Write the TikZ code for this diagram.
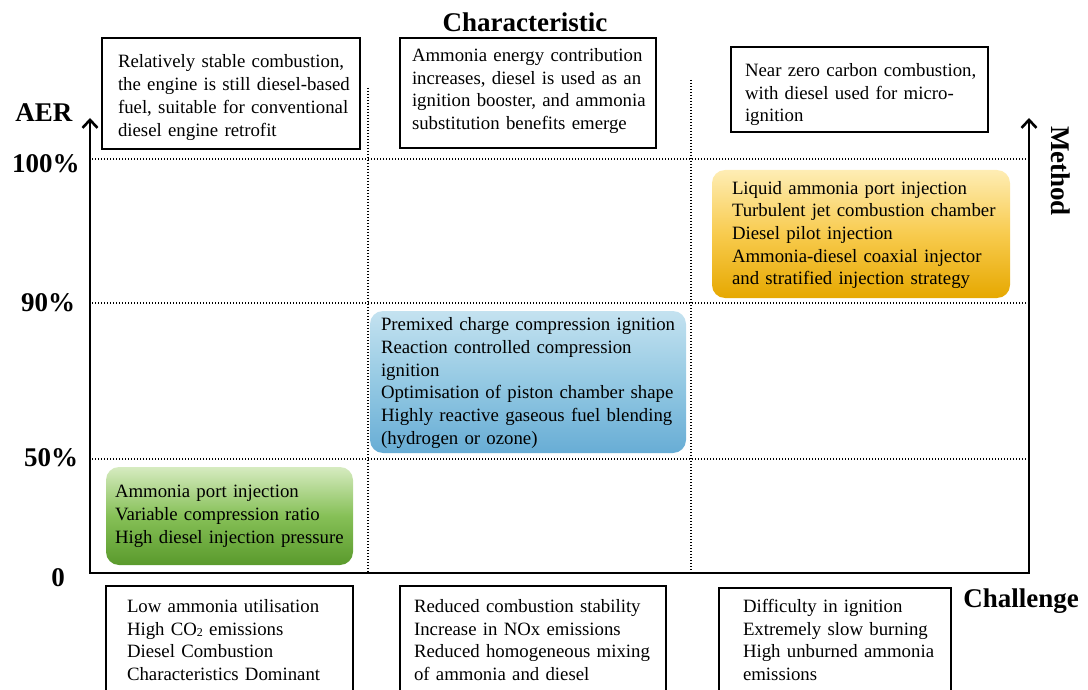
\documentclass[tikz,border=0pt]{standalone}
\usepackage{fontspec}
\setmainfont{Liberation Serif}
\usetikzlibrary{arrows.meta}
\definecolor{gTop}{HTML}{D6EBC0}
\definecolor{gMid}{HTML}{86C057}
\definecolor{gBot}{HTML}{5A9A2C}
\definecolor{bTop}{HTML}{C4E2F0}
\definecolor{bMid}{HTML}{94C9E3}
\definecolor{bBot}{HTML}{68ADD5}
\definecolor{oTop}{HTML}{FEEDB4}
\definecolor{oMid}{HTML}{F8CB4E}
\definecolor{oBot}{HTML}{E6A800}
\newcommand\tlines[2][0pt]{\raisebox{-#1}[\height][\depth]{\begin{tabular}{@{}l@{}}#2\end{tabular}}}
\tikzset{
  txt/.style={align=left, font=\fontsize{18.8}{22.7}\selectfont, inner ysep=0pt, anchor=center},
  framebox/.style={txt, draw, line width=1.5pt},
  roundbox/.style={txt, rounded corners=13pt},
  lab/.style={font=\fontsize{27}{30}\selectfont\bfseries, inner sep=0pt, anchor=base},
  dotline/.style={line width=1.4pt, dash pattern=on 1.4pt off 1.6pt},
  axis/.style={line width=2.6pt, line join=miter}
}
\begin{document}
\begin{tikzpicture}[x=1pt,y=-1pt]
\useasboundingbox (0,0) rectangle (1088,690);

% grid
\draw[dotline] (92,159) -- (1028,159);
\draw[dotline] (92,303) -- (1028,303);
\draw[dotline] (92,459) -- (1028,459);
\draw[dotline] (368,88) -- (368,573);
\draw[dotline] (691,80) -- (691,573);

% axes
\coordinate (ltip) at (90,118);
\coordinate (orig) at (90,573);
\coordinate (rbot) at (1029,573);
\coordinate (rtip) at (1029,118);
\draw[axis, {Straight Barb[length=8pt,width=15pt]}-{Straight Barb[length=8pt,width=15pt]}] (ltip) -- (orig) -- (rbot) -- (rtip);

% labels
\node[lab] (aer) at (44,122) {AER};
\node[lab] (p100) at (46,173) {100\%};
\node[lab] (p90) at (48,311) {90\%};
\node[lab] (p50) at (51,466) {50\%};
\node[lab] (p0) at (58,586) {0};
\node[lab] (charac) at (525,32) {Characteristic};
\node[lab] (chall) at (1021,607) {Challenge};
\node[lab, anchor=center, rotate=-90] (method) at (1061,171) {Method};

% characteristic boxes
\node[framebox, minimum width=258, minimum height=111, inner xsep=16, text width=226] (c1) at (231,93.5)
 {\tlines[4pt]{Relatively stable combustion,\\the engine is still diesel-based\\fuel, suitable for conventional\\diesel engine retrofit}};
\node[framebox, minimum width=256, minimum height=110, inner xsep=12, text width=232] (c2) at (528,93)
 {\tlines[-2pt]{Ammonia energy contribution\\increases, diesel is used as an\\ignition booster, and ammonia\\substitution benefits emerge}};
\node[framebox, minimum width=257, minimum height=85, inner xsep=14, text width=229] (c3) at (859.5,89.5)
 {\tlines[5pt]{Near zero carbon combustion,\\with diesel used for micro-\\ignition}};

% method boxes
\node[roundbox, top color=gTop, bottom color=gBot, middle color=gMid, minimum width=247, minimum height=98, inner xsep=9, text width=229] (m1) at (229.5,516)
 {\tlines{Ammonia port injection\\Variable compression ratio\\High diesel injection pressure}};
\node[roundbox, top color=bTop, bottom color=bBot, middle color=bMid, minimum width=316, minimum height=142, inner xsep=11, text width=294] (m2) at (528,382)
 {\tlines[1pt]{Premixed charge compression ignition\\Reaction controlled compression\\ignition\\Optimisation of piston chamber shape\\Highly reactive gaseous fuel blending\\(hydrogen or ozone)}};
\node[roundbox, top color=oTop, bottom color=oBot, middle color=oMid, minimum width=298, minimum height=128, inner xsep=20, text width=258] (m3) at (861,234)
 {\tlines[1pt]{Liquid ammonia port injection\\Turbulent jet combustion chamber\\Diesel pilot injection\\Ammonia-diesel coaxial injector\\and stratified injection strategy}};

% challenge boxes
\node[framebox, minimum width=247, minimum height=106, inner xsep=21, text width=205] (h1) at (229.5,639)
 {\tlines[3pt]{Low ammonia utilisation\\High CO\raisebox{-0.2ex}{\fontsize{12}{12}\selectfont 2} emissions\\Diesel Combustion\\Characteristics Dominant}};
\node[framebox, minimum width=266, minimum height=106, inner xsep=14, text width=238] (h2) at (533,639)
 {\tlines[3pt]{Reduced combustion stability\\Increase in NOx emissions\\Reduced homogeneous mixing\\of ammonia and diesel}};
\node[framebox, minimum width=232, minimum height=104, inner xsep=24, text width=184] (h3) at (835,640)
 {\tlines[2pt]{Difficulty in ignition\\Extremely slow burning\\High unburned ammonia\\emissions}};
\end{tikzpicture}
\end{document}
